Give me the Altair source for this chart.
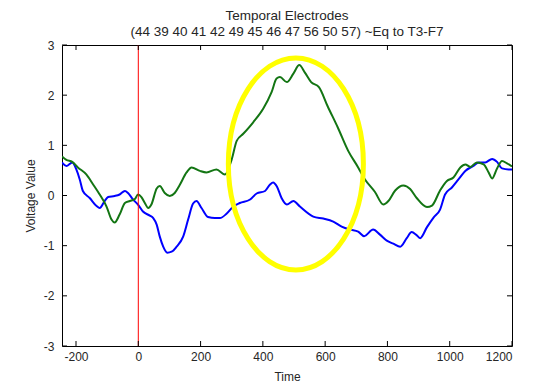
import altair as alt
import pandas as pd

# ---- data ----
blue_t = [-245, -231, -212, -199, -188, -178, -156, -134, -124, -108, -97, -76, -60, -43, -33, -17, -1,
          15, 37, 48, 59, 69, 80, 93, 107, 123, 144, 160, 176, 187, 203, 224, 246, 262, 284, 305, 326,
          359, 380, 407, 423, 433, 445, 460, 477, 498, 519, 562, 594, 626, 653, 680, 706, 725, 754, 776,
          798, 819, 841, 862, 878, 892, 905, 927, 948, 969, 985, 1007, 1028, 1050, 1076, 1093, 1114,
          1136, 1152, 1168, 1189, 1200]
blue_v = [0.66, 0.59, 0.66, 0.52, 0.32, 0.09, -0.05, -0.21, -0.25, -0.11, -0.03, -0.01, 0.02, 0.09, 0.05,
          -0.08, -0.18, -0.32, -0.40, -0.45, -0.58, -0.82, -1.02, -1.14, -1.12, -1.02, -0.82, -0.48, -0.16,
          -0.11, -0.25, -0.43, -0.45, -0.45, -0.36, -0.22, -0.15, -0.08, 0.04, 0.09, 0.22, 0.26, 0.18, -0.05,
          -0.18, -0.11, -0.22, -0.42, -0.46, -0.52, -0.62, -0.68, -0.72, -0.81, -0.68, -0.78, -0.90, -0.96,
          -1.02, -0.85, -0.73, -0.78, -0.85, -0.63, -0.44, -0.28, 0.02, 0.16, 0.32, 0.49, 0.59, 0.66, 0.66,
          0.73, 0.67, 0.54, 0.52, 0.52]

green_t = [-245, -231, -212, -194, -167, -145, -124, -102, -86, -76, -60, -43, -27, -11, -1, 10, 21, 32, 42,
           59, 69, 85, 101, 117, 133, 155, 171, 198, 219, 251, 278, 300, 316, 337, 369, 401, 428, 444, 455,
           477, 498, 517, 535, 555, 580, 608, 641, 674, 706, 728, 760, 787, 803, 825, 851, 873, 894, 927,
           943, 969, 991, 1012, 1034, 1050, 1066, 1087, 1109, 1125, 1136, 1152, 1168, 1184, 1200]
green_v = [0.78, 0.71, 0.67, 0.56, 0.42, 0.22, 0.02, -0.22, -0.48, -0.54, -0.38, -0.15, -0.11, -0.07, 0.02,
           -0.03, -0.15, -0.25, -0.18, 0.14, 0.19, 0.05, -0.01, 0.05, 0.21, 0.46, 0.56, 0.49, 0.46, 0.52,
           0.42, 0.72, 1.09, 1.23, 1.46, 1.73, 2.06, 2.33, 2.36, 2.26, 2.43, 2.60, 2.45, 2.26, 2.16, 1.78,
           1.35, 0.89, 0.56, 0.32, 0.07, -0.18, -0.11, 0.10, 0.20, 0.13, -0.05, -0.23, -0.20, 0.10, 0.29,
           0.36, 0.56, 0.62, 0.57, 0.66, 0.62, 0.46, 0.34, 0.54, 0.69, 0.64, 0.58]

x_ticks = [-200, 0, 200, 400, 600, 800, 1000, 1200]
y_ticks = [-3, -2, -1, 0, 1, 2, 3]
title_lines = ["Temporal Electrodes", "(44 39 40 41 42 49 45 46 47 56 50 57) ~Eq to T3-F7"]
ellipse_center_t = [506]
ellipse_center_v = [0.63]
marker_t = [0]

# ---- chart ----
W, H = 450, 301
FONT = "Liberation Sans"
TXT = "#262626"

df = pd.concat([
    pd.DataFrame({"t": blue_t, "v": blue_v, "series": "blue"}),
    pd.DataFrame({"t": green_t, "v": green_v, "series": "green"}),
])

xs = alt.Scale(domain=[-245, 1200], nice=False, zero=False)
ys = alt.Scale(domain=[-3, 3], nice=False, zero=False)

xax = alt.Axis(values=x_ticks, title="Time", titleX=W / 2, titleY=34, titleBaseline="alphabetic",
               labelPadding=5, labelExpr="toString(datum.value)")
yax = alt.Axis(values=y_ticks, title="Voltage Value", titleX=-32, titleY=H / 2, titleAngle=-90,
               titleBaseline="middle", titleAlign="center", labelPadding=8,
               labelExpr="toString(datum.value)")

lines = alt.Chart(df).mark_line(strokeWidth=2, clip=True, interpolate="monotone").encode(
    x=alt.X("t:Q", scale=xs, axis=xax),
    y=alt.Y("v:Q", scale=ys, axis=yax),
    color=alt.Color("series:N", scale=alt.Scale(domain=["blue", "green"], range=["#0000ff", "#137513"]),
                    legend=None),
)

red = alt.Chart(pd.DataFrame({"t": marker_t})).mark_rule(color="#ff0000", strokeWidth=1).encode(
    x=alt.X("t:Q", title="Time")
)

xt = pd.DataFrame({"t": x_ticks})
yt = pd.DataFrame({"v": y_ticks})
tick_style = dict(color="#000000", strokeWidth=1)
xt_bot = alt.Chart(xt).mark_rule(**tick_style).encode(
    x=alt.X("t:Q", title="Time"), y=alt.value(H), y2=alt.value(H - 5))
xt_top = alt.Chart(xt).mark_rule(**tick_style).encode(
    x=alt.X("t:Q", title="Time"), y=alt.value(0), y2=alt.value(5))
yt_left = alt.Chart(yt).mark_rule(**tick_style).encode(
    y=alt.Y("v:Q", title="Voltage Value"), x=alt.value(0), x2=alt.value(5))
yt_right = alt.Chart(yt).mark_rule(**tick_style).encode(
    y=alt.Y("v:Q", title="Voltage Value"), x=alt.value(W - 5), x2=alt.value(W))

a = 0.637
k = 0.5523
ak = a * k
ellipse_path = (f"M0,-1C{ak:.4f},-1,{a},{-k},{a},0C{a},{k},{ak:.4f},1,0,1"
                f"C{-ak:.4f},1,{-a},{k},{-a},0C{-a},{-k},{-ak:.4f},-1,0,-1Z")
ell = alt.Chart(pd.DataFrame({"t": ellipse_center_t, "v": ellipse_center_v})).mark_point(
    shape=ellipse_path, size=212 * 212, filled=False, stroke="#ffff00", strokeWidth=5, opacity=1
).encode(
    x=alt.X("t:Q", title="Time"), y=alt.Y("v:Q", title="Voltage Value")
)

dummy = pd.DataFrame({"a": [0]})
t1 = alt.Chart(dummy).mark_text(text=title_lines[0], font=FONT, fontSize=13.5, color=TXT,
                                align="center", baseline="alphabetic").encode(
    x=alt.value(W / 2), y=alt.value(-25))
t2 = alt.Chart(dummy).mark_text(text=title_lines[1], font=FONT, fontSize=13.5, color=TXT,
                                align="center", baseline="alphabetic").encode(
    x=alt.value(W / 2), y=alt.value(-9))

chart = alt.layer(lines, red, xt_bot, xt_top, yt_left, yt_right, ell, t1, t2).properties(
    width=W, height=H,
    autosize=alt.AutoSizeParams(type="none"),
    padding={"left": 62, "top": 45, "right": 23, "bottom": 36},
    background="#ffffff",
).configure_view(
    stroke="#000000", strokeWidth=1
).configure_axis(
    domain=False, ticks=False, grid=False,
    labelFont=FONT, labelFontSize=12, labelColor=TXT,
    titleFont=FONT, titleFontSize=12, titleColor=TXT, titleFontWeight="normal",
)

chart.save("out.html", embed_options={"renderer": "svg", "actions": False})
